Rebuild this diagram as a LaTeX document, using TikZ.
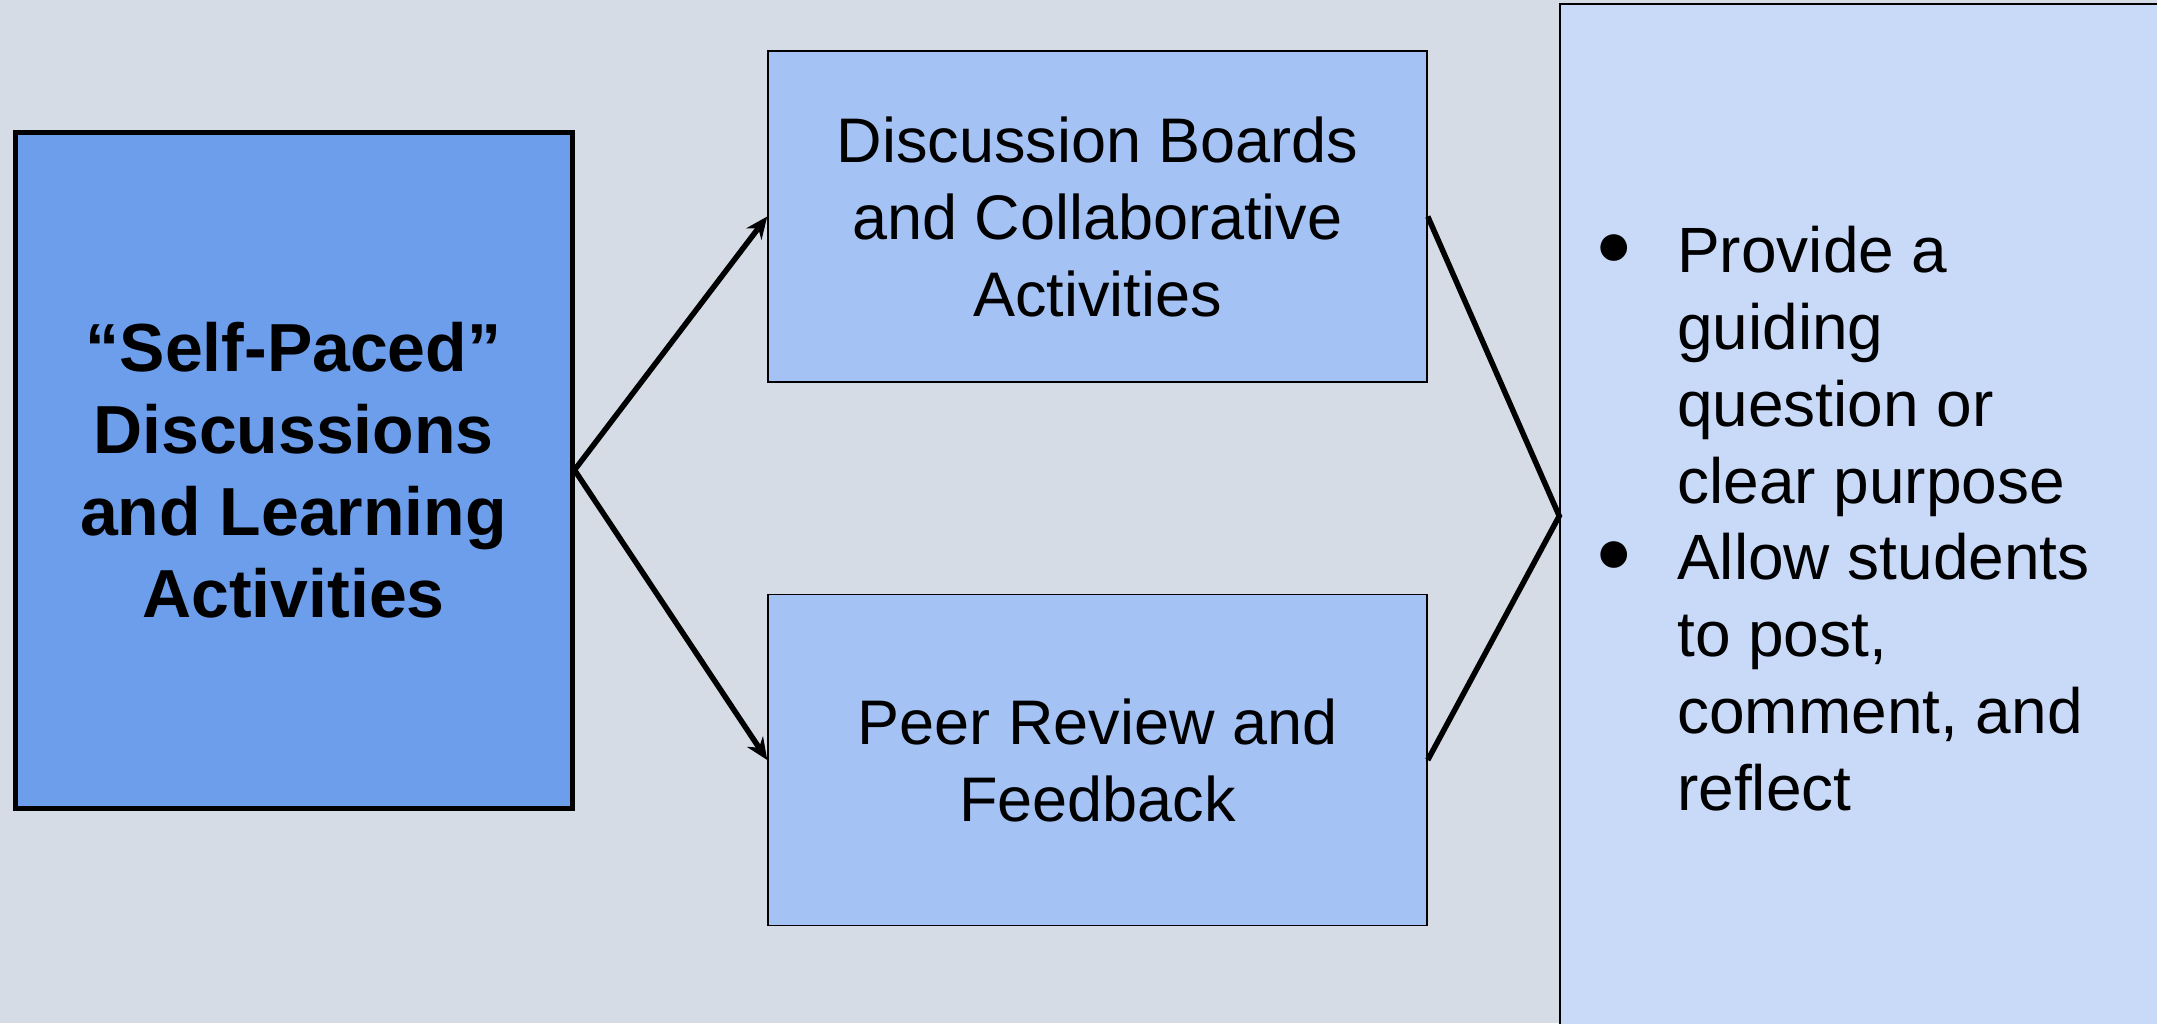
\documentclass[tikz,border=0pt]{standalone}
\usepackage{fontspec}
\setmainfont{Liberation Sans}
\usepackage{tikz}
\usetikzlibrary{arrows.meta}
\usepackage{xcolor}
\definecolor{ColBack}{RGB}{214,220,229}
\definecolor{ColMain}{RGB}{109,158,235}
\definecolor{ColMid}{RGB}{164,194,244}
\definecolor{ColSide}{RGB}{201,218,248}
\tikzstyle{NodeMain}=[rectangle,draw=black,fill=ColMain,line width=5pt,minimum width=557pt,
minimum height=676pt,inner sep=0pt,align=center,font=\fontsize{68}{82}\selectfont\bfseries]
\tikzstyle{NodeMid}=[rectangle,draw=black,fill=ColMid,line width=1.5pt,minimum width=659pt,
minimum height=331pt,inner sep=0pt,align=center,font=\fontsize{63}{77}\selectfont]
\tikzstyle{NodeSide}=[rectangle,draw=black,fill=ColSide,line width=1.5pt,minimum width=620pt,
minimum height=1024pt,inner sep=0pt]
\tikzstyle{NodeText}=[inner sep=0pt,align=left,font=\fontsize{64}{77}\selectfont]
\tikzstyle{NodeBullet}=[inner sep=0pt,font=\fontsize{62}{62}\selectfont]
\tikzstyle{EdgeArrow}=[black,line width=5.5pt,-{Stealth[length=22pt,width=19pt]}]
\tikzstyle{EdgeLine}=[black,line width=5.5pt,line join=miter]

\begin{document}
\begin{tikzpicture}[x=1pt,y=-1pt]
        \useasboundingbox[fill=ColBack](0,0)rectangle(2157,1023);
        \node[NodeMain](self)at(293.5,470){“Self-Paced”\\Discussions\\and Learning\\Activities};
        \node[NodeMid](boards)at(1097.5,216.5){Discussion Boards\\and Collaborative\\Activities};
        \node[NodeMid](peer)at(1097.5,760){Peer Review and\\Feedback};
        \node[NodeSide](tips)at(1870,516){};
        \node[NodeBullet](dotA)at(1614,250){●};
        \node[NodeBullet](dotB)at(1614,557){●};
        \node[NodeText,anchor=base west](provide)at(1677,503){Provide a\\guiding\\question or\\clear purpose};
        \node[NodeText,anchor=base west](allow)at(1677,810){Allow students\\to post,\\comment, and\\reflect};
        \draw[EdgeArrow](self.east)--(boards.west);
        \draw[EdgeArrow](self.east)--(peer.west);
        \draw[EdgeLine](boards.east)--(tips.west)--(peer.east);
    \end{tikzpicture}
\end{document}
